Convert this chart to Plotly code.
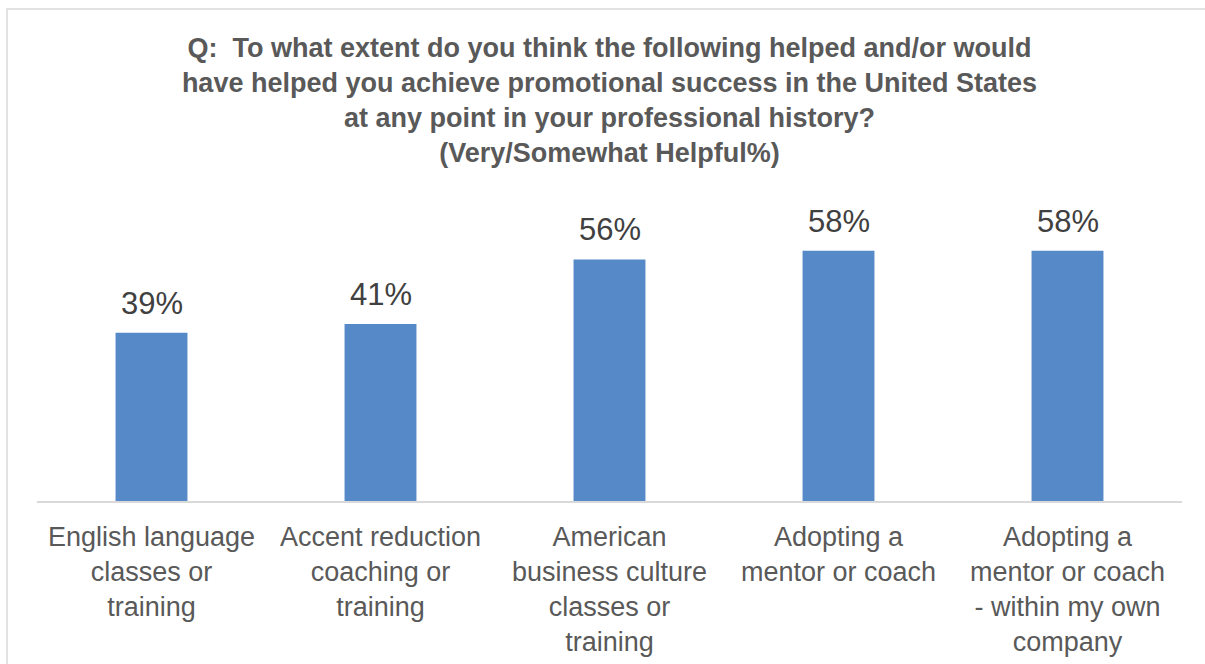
import plotly.graph_objects as go

categories = [
    "English language<br>classes or<br>training",
    "Accent reduction<br>coaching or<br>training",
    "American<br>business culture<br>classes or<br>training",
    "Adopting a<br>mentor or coach",
    "Adopting a<br>mentor or coach<br>- within my own<br>company",
]
values = [39, 41, 56, 58, 58]
value_labels = ["39%", "41%", "56%", "58%", "58%"]

title_text = ("Q:  To what extent do you think the following helped and/or would<br>"
              "have helped you achieve promotional success in the United States<br>"
              "at any point in your professional history?<br>"
              "(Very/Somewhat Helpful%)")

W, H = 1205, 664
ML, MR, MT, MB = 37, 23, 199, 163
PW, PH = W - ML - MR, H - MT - MB

fig = go.Figure()
fig.add_trace(go.Bar(
    x=categories, y=values,
    marker=dict(color="#5589C8", line=dict(width=0)),
    hoverinfo="skip",
))

for c, v, t in zip(categories, values, value_labels):
    fig.add_annotation(x=c, y=v, text=t, showarrow=False, yanchor="bottom",
                       yshift=10, font=dict(family="Liberation Sans, Arial", size=31, color="#404040"))

# outer chart border
fig.add_shape(type="rect", xref="paper", yref="paper",
              x0=(7 - ML) / PW, x1=(W + 10 - ML) / PW,
              y0=-(H + 10 - (H - MB)) / PH, y1=((H - MB) - 9) / PH,
              line=dict(color="#D9D9D9", width=1.5), layer="below")

fig.update_layout(
    width=W, height=H,
    margin=dict(l=ML, r=MR, t=MT, b=MB, autoexpand=False),
    paper_bgcolor="white", plot_bgcolor="white",
    bargap=0.686,
    showlegend=False,
    title=dict(text=title_text, x=0.5, xref="paper", xanchor="center",
               y=1 - 57 / H, yref="container", yanchor="top",
               font=dict(family="Liberation Sans, Arial", size=27, color="#595959", weight="bold")),
    xaxis=dict(showgrid=False, showline=True, linecolor="#D9D9D9", linewidth=1.5,
               ticks="", ticklabelstandoff=11, automargin=False,
               tickfont=dict(family="Liberation Sans, Arial", size=27, color="#595959"),
               tickangle=0, fixedrange=True),
    yaxis=dict(range=[0, 70], visible=False, showgrid=False, fixedrange=True, automargin=False),
)

fig.write_html("out.html")
